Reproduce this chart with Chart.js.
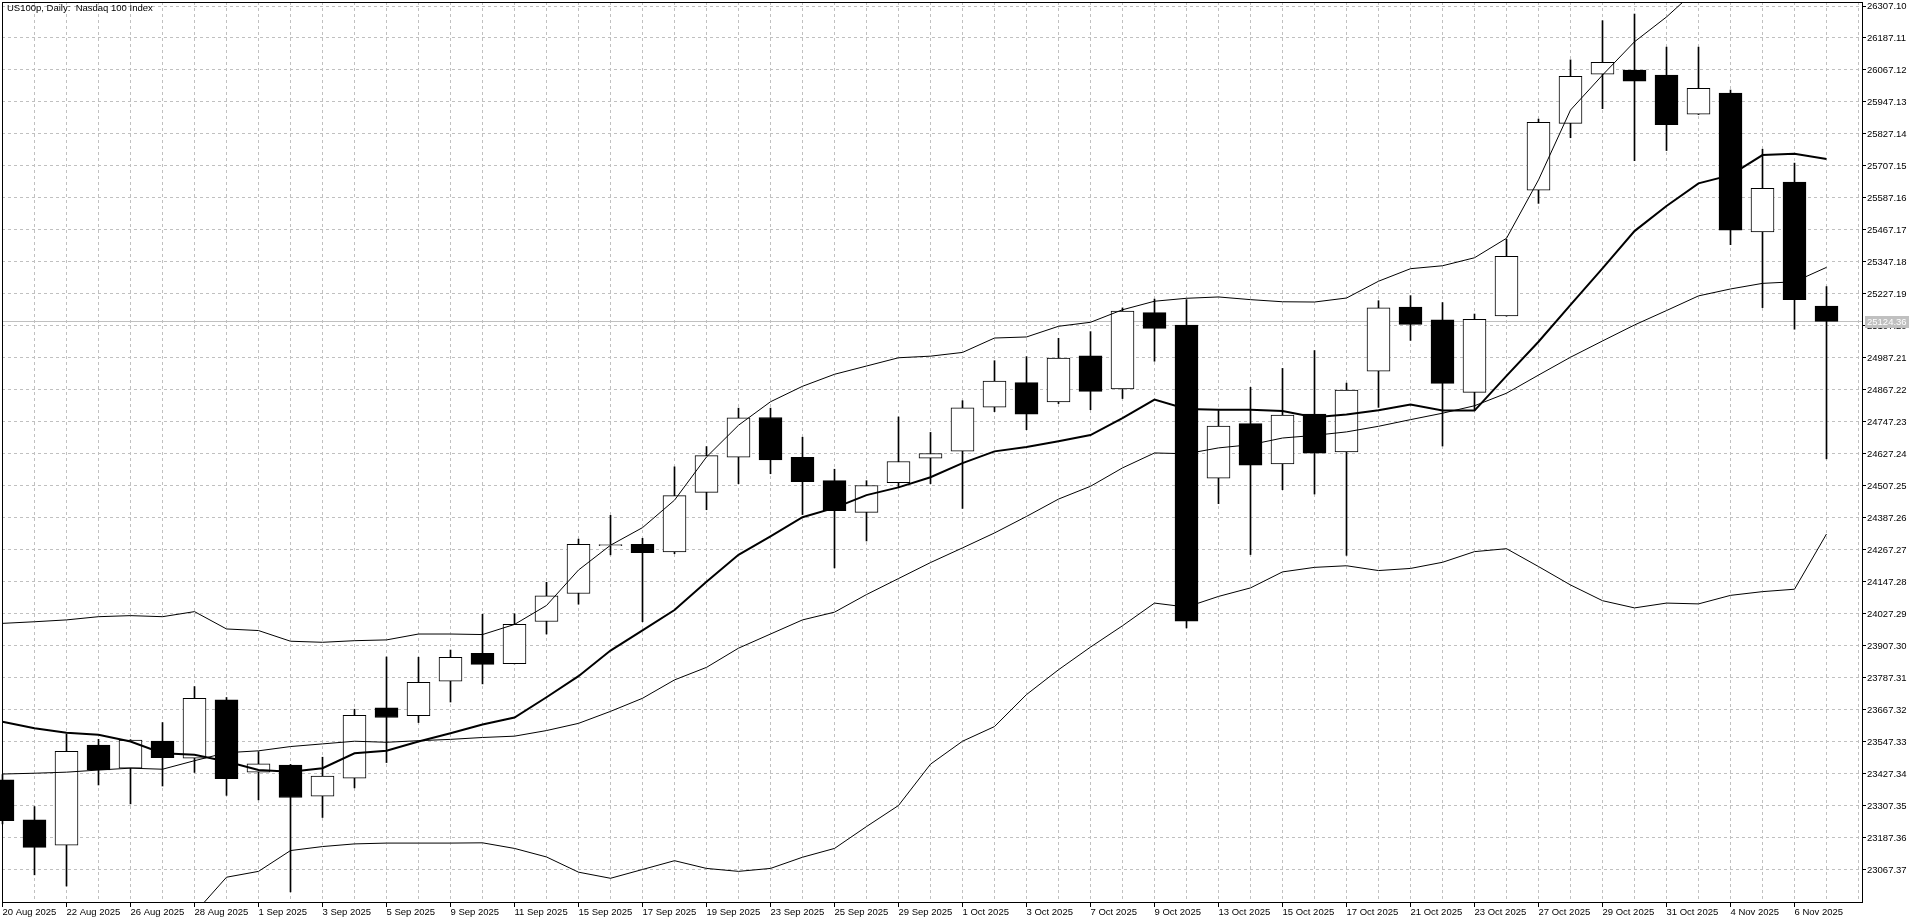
<!DOCTYPE html>
<html>
<head>
<meta charset="utf-8">
<title>US100p, Daily</title>
<script src="https://cdn.jsdelivr.net/npm/chart.js@4.4.1/dist/chart.umd.min.js"></script>
<style>
html, body { margin: 0; padding: 0; background: #fff; overflow: hidden; }
canvas { display: block; }
</style>
</head>
<body>
<canvas id="chart" width="1920" height="923"></canvas>
<script>
// ---------------------------------------------------------------- data
const dates = [
    '20 Aug 2025', '21 Aug 2025', '22 Aug 2025', '25 Aug 2025', '26 Aug 2025', '27 Aug 2025', '28 Aug 2025', '29 Aug 2025',
    '1 Sep 2025', '2 Sep 2025', '3 Sep 2025', '4 Sep 2025', '5 Sep 2025', '8 Sep 2025', '9 Sep 2025', '10 Sep 2025',
    '11 Sep 2025', '12 Sep 2025', '15 Sep 2025', '16 Sep 2025', '17 Sep 2025', '18 Sep 2025', '19 Sep 2025', '22 Sep 2025',
    '23 Sep 2025', '24 Sep 2025', '25 Sep 2025', '26 Sep 2025', '29 Sep 2025', '30 Sep 2025',
    '1 Oct 2025', '2 Oct 2025', '3 Oct 2025', '6 Oct 2025', '7 Oct 2025', '8 Oct 2025', '9 Oct 2025', '10 Oct 2025',
    '13 Oct 2025', '14 Oct 2025', '15 Oct 2025', '16 Oct 2025', '17 Oct 2025', '20 Oct 2025', '21 Oct 2025', '22 Oct 2025',
    '23 Oct 2025', '24 Oct 2025', '27 Oct 2025', '28 Oct 2025', '29 Oct 2025', '30 Oct 2025', '31 Oct 2025',
    '3 Nov 2025', '4 Nov 2025', '5 Nov 2025', '6 Nov 2025', '7 Nov 2025'
];

const open = [
    23405, 23255, 23160, 23536, 23449, 23551, 23486, 23705, 23434, 23461, 23344, 23411, 23675, 23646, 23775, 23880,
    23841, 23999, 24104, 24283.5, 24288, 24260, 24483, 24615, 24764, 24615, 24527, 24408, 24520, 24611,
    24638, 24803, 24895, 24822, 24995, 24871, 25157, 25111, 24536, 24741, 24590, 24777, 24635, 24938, 25178, 25130,
    24858, 25145, 25616, 25867, 26051, 26067, 26048, 25901, 25981, 25460, 25647, 25182
];
const high = [
    23425, 23305, 23577, 23557, 23556, 23620, 23755, 23714, 23511, 23463, 23490, 23670, 23866, 23865, 23892, 24026,
    24028, 24146, 24308, 24397, 24311, 24579, 24655, 24799, 24799, 24690, 24570, 24527, 24766, 24708,
    24827, 24977, 24992, 25061, 25086, 25175, 25208, 25206, 24790, 24877, 24948, 25015, 24893, 25202, 25221, 25195,
    25152, 25432, 25883, 26105, 26252, 26277, 26153, 26153, 25992, 25770, 25718, 25255
];
const low = [
    23240, 23049, 23007, 23386, 23315, 23382, 23433, 23347, 23330, 22985, 23264, 23375, 23470, 23620, 23697, 23765,
    23840, 23952, 24064, 24249, 23998, 24253, 24418, 24516, 24553, 24400, 24200, 24301, 24504, 24516,
    24423, 24786, 24718, 24816, 24793, 24835, 24975, 23975, 24441, 24250, 24493, 24477, 24247, 24802, 25053, 24657,
    24790, 25144, 25567, 25813, 25922, 25727, 25765, 25900, 25412, 25176, 25095, 24609
];
const close = [
    23252, 23152, 23512, 23442, 23554, 23488, 23711, 23410, 23465, 23339, 23419, 23647, 23639, 23771, 23865, 23838,
    23988, 24095, 24288, 24287, 24257, 24471, 24621, 24763, 24605, 24523, 24415, 24509, 24599, 24629,
    24800, 24901, 24776, 24987, 24862, 25163, 25098, 24000, 24732, 24585, 24773, 24630, 24867, 25175, 25113, 24892,
    25132, 25368, 25871, 26043, 26096, 26025, 25862, 25998, 25466, 25623, 25206, 25124.36
];

// thick moving average
const ma = [
    23623, 23599, 23582, 23574, 23549, 23505, 23499, 23474, 23442, 23436, 23449, 23505, 23514, 23549, 23580, 23613,
    23639, 23715, 23794, 23890, 23966, 24042, 24148, 24249, 24318, 24390, 24425, 24473, 24502, 24540,
    24593, 24637, 24653, 24675, 24698, 24762, 24831, 24796, 24793, 24793, 24788, 24765, 24775, 24791, 24813, 24790,
    24790, 24920, 25048, 25186, 25323, 25463, 25557, 25642, 25673, 25748, 25753, 25733
];

// bollinger bands
const bbUpper = [
    23992, 23998, 24005, 24017, 24021, 24017, 24036, 23971, 23965, 23925, 23921, 23927, 23930, 23952, 23952, 23950,
    23988, 24059, 24192, 24285, 24351, 24454, 24616, 24735, 24823, 24881, 24926, 24957, 24988, 24994,
    25008, 25062, 25066, 25106, 25121, 25168, 25200, 25211, 25216, 25206, 25198, 25197, 25212, 25275, 25322, 25333,
    25363, 25436, 25655, 25917, 26048, 26173, 26266, 26375, 26395, 26423, 26426, 26327
];
const bbMiddle = [
    23427, 23430, 23434, 23442, 23449, 23445, 23477, 23507, 23514, 23530, 23540, 23550, 23546, 23552, 23557, 23564,
    23569, 23590, 23617, 23662, 23711, 23780, 23827, 23899, 23952, 24005, 24034, 24100, 24160, 24220,
    24275, 24331, 24393, 24458, 24506, 24575, 24631, 24628, 24650, 24662, 24687, 24697, 24710, 24731, 24756, 24780,
    24808, 24855, 24923, 24990, 25051, 25111, 25165, 25220, 25246, 25267, 25273, 25327
];
const bbLower = [
    22862, 22862, 22863, 22867, 22877, 22873, 22905, 23040, 23062, 23140, 23155, 23165, 23168, 23168, 23168, 23169,
    23148, 23116, 23059, 23036, 23069, 23102, 23073, 23062, 23073, 23115, 23148, 23230, 23309, 23464,
    23550, 23605, 23725, 23818, 23903, 23983, 24068, 24053, 24093, 24125, 24185, 24202, 24208, 24190, 24198, 24221,
    24261, 24272, 24205, 24136, 24077, 24050, 24068, 24065, 24097, 24111, 24120, 24327
];

// price axis
const yTicks = [
    26307.10, 26187.11, 26067.12, 25947.13, 25827.14, 25707.15, 25587.16, 25467.17, 25347.18, 25227.19,
    25107.20, 24987.21, 24867.22, 24747.23, 24627.24, 24507.25, 24387.26, 24267.27, 24147.28, 24027.29,
    23907.30, 23787.31, 23667.32, 23547.33, 23427.34, 23307.35, 23187.36, 23067.37
];
const yMax = 26322.10;
const yMin = 22947.10;

// ---------------------------------------------------------------- helpers
const FONT = {family: '"Liberation Sans", Arial, sans-serif', size: 9.5};
const bid = close[close.length - 1];
const toPoints = arr => arr.map((v, i) => ({x: i, y: v}));
const candleFill = open.map((o, i) => close[i] >= o ? '#ffffff' : '#000000');

const thinLine = arr => ({
    type: 'line',
    data: toPoints(arr),
    borderColor: '#000',
    borderWidth: 1,
    pointRadius: 0,
    tension: 0,
    order: 0
});

const noPadding = s => { s.paddingTop = 0; s.paddingBottom = 0; s.paddingLeft = 0; s.paddingRight = 0; };

// titre, ligne bid, cadre
const mtDecor = {
    id: 'mtDecor',
    beforeDatasetsDraw(chart) {
        const {ctx, chartArea: a, scales: {y}} = chart;
        const py = Math.round(y.getPixelForValue(bid)) + 0.5;
        ctx.save();
        ctx.strokeStyle = '#c0c0c0';
        ctx.lineWidth = 1;
        ctx.beginPath();
        ctx.moveTo(a.left, py);
        ctx.lineTo(a.right, py);
        ctx.stroke();
        ctx.restore();
    },
    afterDraw(chart) {
        const {ctx, chartArea: a, scales: {y}} = chart;
        ctx.save();
        // cadre
        ctx.strokeStyle = '#000';
        ctx.lineWidth = 1;
        ctx.strokeRect(a.left + 0.5, a.top + 0.5, a.right - a.left, a.bottom - a.top);
        // titre
        ctx.font = FONT.size + 'px ' + FONT.family;
        ctx.fillStyle = '#000';
        ctx.textBaseline = 'top';
        ctx.textAlign = 'left';
        ctx.fillText('US100p, Daily:  Nasdaq 100 Index', 7, 4);
        // étiquette bid
        const py = Math.round(y.getPixelForValue(bid));
        ctx.fillStyle = '#c0c0c0';
        ctx.fillRect(a.right + 3, py - 5, 44, 12);
        ctx.fillStyle = '#ffffff';
        ctx.textBaseline = 'middle';
        ctx.fillText(bid.toFixed(2), a.right + 5, py + 1);
        ctx.restore();
    }
};

// ---------------------------------------------------------------- chart
const ctx = document.getElementById('chart').getContext('2d');
const myChart = new Chart(ctx, {
    type: 'line',
    data: {
        datasets: [
            thinLine(bbUpper),
            thinLine(bbMiddle),
            thinLine(bbLower),
            {
                type: 'line',
                data: toPoints(ma),
                borderColor: '#000',
                borderWidth: 2,
                pointRadius: 0,
                tension: 0,
                order: 0
            },
            {
                type: 'bar',
                data: open.map((o, i) => ({x: i, y: [o, close[i]]})),
                backgroundColor: candleFill,
                borderColor: '#000',
                borderWidth: 1,
                borderSkipped: false,
                barThickness: 23,
                grouped: false,
                clip: false,
                order: 1
            },
            {
                type: 'bar',
                data: low.map((l, i) => ({x: i, y: [l, high[i]]})),
                backgroundColor: '#000',
                borderWidth: 0,
                barThickness: 1,
                grouped: false,
                clip: false,
                order: 2
            }
        ]
    },
    options: {
        responsive: false,
        animation: false,
        devicePixelRatio: 1,
        events: [],
        layout: {padding: {left: 2, top: 2, right: 0, bottom: 0}},
        plugins: {
            legend: {display: false},
            tooltip: {enabled: false}
        },
        scales: {
            x: {
                type: 'linear',
                min: -1 / 64,
                max: 58.109375,
                offset: false,
                afterBuildTicks: s => {
                    s.ticks = dates.map((d, i) => ({value: i})).concat([{value: dates.length}]);
                },
                afterFit: s => { s.height = 21; noPadding(s); },
                grid: {
                    offset: false,
                    color: '#c0c0c0',
                    lineWidth: 1,
                    drawTicks: true,
                    tickLength: 5,
                    tickWidth: 1,
                    tickColor: c => (c.index % 2 === 0 && c.index < dates.length) ? '#000' : 'rgba(0,0,0,0)'
                },
                border: {display: false, dash: [3, 3]},
                ticks: {
                    autoSkip: false,
                    maxRotation: 0,
                    minRotation: 0,
                    align: 'start',
                    padding: 0,
                    color: '#000',
                    font: FONT,
                    callback: (v, i) => (i % 2 === 0 && i < dates.length) ? dates[i] : ''
                }
            },
            y: {
                type: 'linear',
                position: 'right',
                min: yMin,
                max: yMax,
                afterBuildTicks: s => { s.ticks = yTicks.map(v => ({value: v})); },
                afterFit: s => { s.width = 58; noPadding(s); },
                grid: {
                    color: '#c0c0c0',
                    lineWidth: 1,
                    drawTicks: true,
                    tickLength: 4,
                    tickWidth: 1,
                    tickColor: '#000'
                },
                border: {display: false, dash: [3, 3]},
                ticks: {
                    padding: 1,
                    color: '#000',
                    font: FONT,
                    callback: v => v.toFixed(2)
                }
            }
        }
    },
    plugins: [mtDecor]
});
</script>
</body>
</html>
